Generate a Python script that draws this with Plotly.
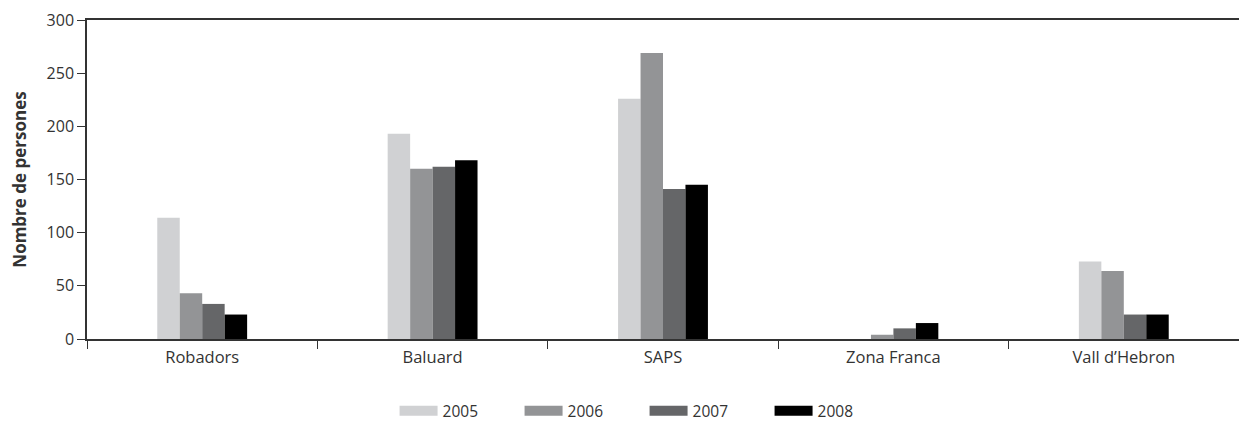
import plotly.graph_objects as go

categories = ["Robadors", "Baluard", "SAPS", "Zona Franca", "Vall d\u2019Hebron"]
years = ["2005", "2006", "2007", "2008"]
values_2005 = [114, 193, 226, 0, 73]
values_2006 = [43, 160, 269, 4, 64]
values_2007 = [33, 162, 141, 10, 23]
values_2008 = [23, 168, 145, 15, 23]
series = [values_2005, values_2006, values_2007, values_2008]
colors = ["#d0d1d3", "#939496", "#656668", "#000000"]

FONT = "Open Sans, Noto Sans, sans-serif"

fig = go.Figure()
for year, vals, color in zip(years, series, colors):
    fig.add_trace(go.Bar(x=categories, y=vals, name=year, marker_color=color,
                         marker_line_width=0, showlegend=False))
    # legend swatch as a thick line entry
    fig.add_trace(go.Scatter(x=[None], y=[None], mode="lines", name=year,
                             line=dict(color=color, width=18)))

fig.update_layout(
    width=1239,
    height=422,
    margin=dict(l=87, r=0, t=20, b=83, autoexpand=False),
    plot_bgcolor="white",
    paper_bgcolor="white",
    font=dict(family=FONT, size=15, color="#333333"),
    barmode="group",
    bargap=0.61,
    bargroupgap=0,
    showlegend=True,
    legend=dict(orientation="h", x=0.484, xanchor="center", y=-0.226, yanchor="middle",
                entrywidth=72, entrywidthmode="pixels", itemwidth=38,
                font=dict(size=15.5, family=FONT, color="#333333")),
)
fig.update_xaxes(
    type="category", automargin=False,
    showline=True, linecolor="#333333", linewidth=2, mirror=True,
    ticks="outside", tickson="boundaries", ticklen=8, tickcolor="#333333",
    ticklabelstandoff=2,
    showgrid=False, tickfont=dict(size=16.5),
)
fig.update_yaxes(
    range=[0, 300], tickvals=[0, 50, 100, 150, 200, 250, 300], automargin=False,
    showline=True, linecolor="#333333", linewidth=1.5,
    ticks="outside", ticklen=8, tickcolor="#333333",
    showgrid=False, zeroline=False, tickfont=dict(size=16),
    title=dict(text="<b>Nombre de persones</b>", font=dict(size=17), standoff=16),
)

fig.write_html(
    "out.html",
    config={"displayModeBar": False},
    post_script="document.body.style.margin='0';document.body.style.overflow='hidden';",
)
